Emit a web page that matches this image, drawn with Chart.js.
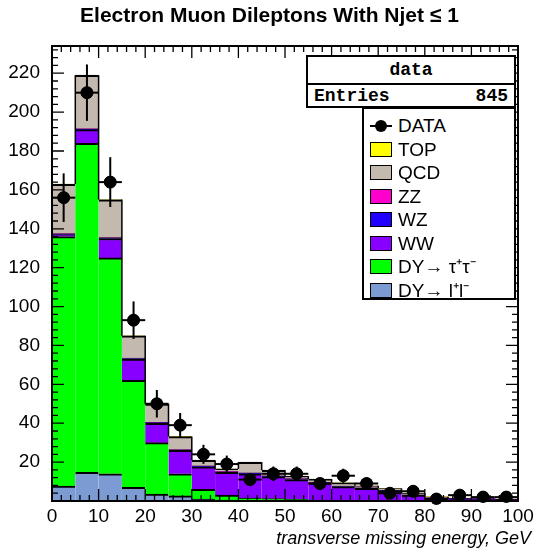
<!DOCTYPE html>
<html><head><meta charset="utf-8">
<script src="https://cdn.jsdelivr.net/npm/chart.js@4"></script>
<style>
body{margin:0;background:#fff;font-family:"Liberation Sans",Arial,sans-serif}
#wrap{position:relative;width:539px;height:555px}
.t{position:absolute;white-space:nowrap}
.leg{position:absolute;left:362px;top:107px;width:154px;height:193px;border:2px solid #000;box-sizing:border-box;background:#fff}
.row{position:absolute;left:6px;height:22px;font-size:19px;line-height:22px}
.sw{display:inline-block;width:20px;height:13px;border:1px solid #000;vertical-align:-1px;margin-right:6px}
</style></head><body>
<div id="wrap">
<canvas id="c" width="539" height="555"></canvas>
<div class="t" style="left:0;width:539px;top:3px;text-align:center;font-weight:bold;font-size:21px">Electron Muon Dileptons With Njet ≤ 1</div>
<div class="t" style="right:8px;top:528px;font-style:italic;font-size:18px">transverse missing energy, GeV</div>
<div style="position:absolute;left:306px;top:55px;width:210px;height:53px;border:2px solid #000;box-sizing:border-box;background:#fff;font-family:'Liberation Mono',monospace;font-weight:bold;font-size:18px">
 <div style="height:26px;border-bottom:2px solid #000;text-align:center;line-height:26px">data</div>
 <div style="line-height:23px;padding:0 6px">Entries<span style="float:right">845</span></div>
</div>
<div class="leg" id="leg"></div>
</div>
<script>
const binCenters=[2.5,7.5,12.5,17.5,22.5,27.5,32.5,37.5,42.5,47.5,52.5,57.5,62.5,67.5,72.5,77.5,82.5,87.5,92.5,97.5];
const dyll=[7.7,14.7,14,7,3.6,2.6,1,0.5,0.4,0.3,0.3,0.2,0.2,0.1,0.1,0.1,0,0,0,0];
const dytt=[128.3,169.3,111,55,26.4,11.4,5,2.5,1.1,0.9,0.5,0.3,0.2,0.2,0.1,0.1,0.1,0,0,0];
const ww=[1,7,10,11,10,12,11.6,11.7,12.5,11.3,10.2,8.7,7,6.2,5.1,2.8,1.4,1.3,1.1,0.9];
const wz=[0.3,0.3,0.3,0.3,0.3,0.3,0.3,0.3,0.3,0.3,0.3,0.2,0.2,0.2,0.2,0.1,0.1,0,0,0];
const zz=[0.2,0.2,0.2,0.2,0.2,0.2,0.2,0.2,0.2,0.2,0.2,0.2,0.1,0.1,0.1,0.1,0,0,0,0];
const top_=[0.1,0.1,0.1,0.1,0.1,0.1,0.1,0.1,0.1,0.1,0.1,0.1,0.1,0.1,0.1,0,0,0,0,0];
const qcd=[25.4,27.4,19.4,11.4,9.4,6.6,2.8,1.2,5.4,2.8,1.2,1.6,1.6,0.9,0.8,0.8,0.6,0.2,0.1,0.1];
const dataVals=[156,210,164,93,50,39,24,19,11,14,14,9,13,9,4,5,1,3,2,2];
const yTicks=[20,40,60,80,100,120,140,160,180,200,220];
const xTicks=[0,10,20,30,40,50,60,70,80,90,100];

const series=[
 ["DY→ l⁺l⁻",dyll,"#7b9bd2"],
 ["DY→ τ⁺τ⁻",dytt,"#00ff00"],
 ["WW",ww,"#8800ff"],
 ["WZ",wz,"#2200ff"],
 ["ZZ",zz,"#ff00cc"],
 ["QCD",qcd,"#c4b9ae"],
 ["TOP",top_,"#ffff00"]
];
const datasets=series.map(([l,v,c])=>({type:'bar',label:l,data:v.map((y,i)=>({x:binCenters[i],y})),backgroundColor:c,borderColor:'#000',borderWidth:{top:2,left:0,right:0,bottom:0},borderSkipped:false,stack:'s',barPercentage:1,categoryPercentage:1,grouped:false,order:1}));
datasets.push({type:'scatter',label:'DATA',order:0,data:dataVals.map((y,i)=>({x:binCenters[i],y})),pointRadius:6,backgroundColor:'#000',borderColor:'#000'});

const deco={id:'deco',afterDatasetsDraw(ch){
 const g=ch.ctx,x=ch.scales.x,y=ch.scales.y,a=ch.chartArea;
 g.save();g.strokeStyle='#000';
 g.lineWidth=1.5;
 const tot=binCenters.map((_,i)=>series.reduce((s,d)=>s+d[1][i],0));
 for(let i=1;i<tot.length;i++){const px=x.getPixelForValue(binCenters[i]-2.5);g.beginPath();g.moveTo(px,y.getPixelForValue(tot[i-1]));g.lineTo(px,y.getPixelForValue(tot[i]));g.stroke();}
 g.lineWidth=2;
 dataVals.forEach((v,i)=>{const px=x.getPixelForValue(binCenters[i]),e=Math.sqrt(v);
  g.beginPath();g.moveTo(px,y.getPixelForValue(v+e));g.lineTo(px,y.getPixelForValue(Math.max(v-e,0)));g.stroke();
  g.beginPath();g.moveTo(x.getPixelForValue(binCenters[i]-2.5),y.getPixelForValue(v));g.lineTo(x.getPixelForValue(binCenters[i]+2.5),y.getPixelForValue(v));g.stroke();
  g.beginPath();g.arc(px,y.getPixelForValue(v),6,0,7);g.fillStyle='#000';g.fill();});
 g.lineWidth=2;g.strokeRect(a.left,a.top,a.right-a.left,a.bottom-a.top);
 g.lineWidth=1.3;
 for(let v=0;v<=y.max;v+=4){const py=y.getPixelForValue(v),L=v%20===0?12:6;
  g.beginPath();g.moveTo(a.left,py);g.lineTo(a.left+L,py);g.moveTo(a.right,py);g.lineTo(a.right-L,py);g.stroke();}
 for(let v=0;v<=100;v+=2){const px=x.getPixelForValue(v),L=v%10===0?12:6;
  g.beginPath();g.moveTo(px,a.bottom);g.lineTo(px,a.bottom-L);g.moveTo(px,a.top);g.lineTo(px,a.top+L);g.stroke();}
 g.restore();}};

new Chart(document.getElementById('c'),{
 data:{datasets},
 options:{responsive:false,animation:false,
  layout:{padding:{top:46,right:21,left:0,bottom:0}},
  plugins:{legend:{display:false},tooltip:{enabled:false}},
  scales:{
   x:{type:'linear',min:0,max:100,offset:false,stacked:true,grid:{display:false,offset:false},border:{display:false},
      afterFit:s=>{s.height=54},afterBuildTicks:s=>{s.ticks=xTicks.map(v=>({value:v}))},
      ticks:{color:'#000',font:{size:19,family:'Liberation Sans'},padding:-4,maxRotation:0}},
   y:{min:0,max:234,stacked:true,grid:{display:false},border:{display:false},
      afterFit:s=>{s.width=52},afterBuildTicks:s=>{s.ticks=yTicks.map(v=>({value:v}))},
      ticks:{color:'#000',font:{size:19,family:'Liberation Sans'},padding:4}}
  }},
 plugins:[deco]});

const leg=document.getElementById('leg');
const items=[["DATA",null]].concat([...series].reverse().map(s=>[s[0],s[2]]));
items.forEach(([l,c],i)=>{const d=document.createElement('div');d.className='row';d.style.top=(6+i*23.5)+'px';
 d.innerHTML=(c?'<span class="sw" style="background:'+c+'"></span>':'<span style="display:inline-block;width:22px;margin-right:6px;position:relative;height:13px;vertical-align:-1px"><span style="position:absolute;left:0;top:5px;width:22px;height:2px;background:#000"></span><span style="position:absolute;left:5px;top:0;width:12px;height:12px;border-radius:50%;background:#000"></span></span>')+l;
 leg.appendChild(d);});
</script>
</body></html>
